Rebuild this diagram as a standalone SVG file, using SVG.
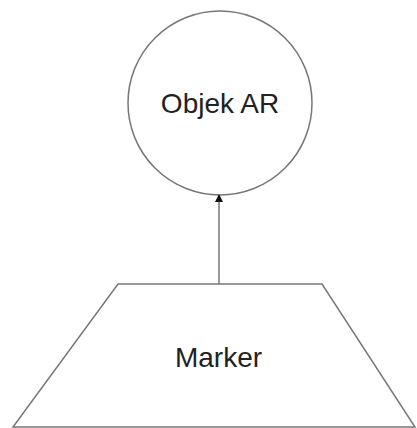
<svg xmlns="http://www.w3.org/2000/svg" width="417" height="428" viewBox="0 0 417 428">
<defs>
<style>
.shape{fill:#fff;stroke:#777;stroke-width:1.5}
.lbl{font-family:"Liberation Sans",Arial,sans-serif;font-size:28px;fill:#222;text-anchor:middle}
.conn{stroke:#777;stroke-width:1.5;fill:none}
</style>
<marker id="arr" markerWidth="8" markerHeight="8" refX="7" refY="4" orient="auto" markerUnits="userSpaceOnUse">
<path d="M0,0 L8,4 L0,8 z" fill="#111"/>
</marker>
</defs>
<rect width="417" height="428" fill="#fff"/>
<g id="marker">
<polygon class="shape" points="118,284 322,284 415,427 13,427"/>
<text class="lbl" x="218.5" y="367">Marker</text>
</g>
<g id="objek-ar">
<circle class="shape" cx="220" cy="103" r="92"/>
<text class="lbl" x="220" y="113">Objek AR</text>
</g>
<g id="connectors">
<line class="conn" x1="219" y1="284" x2="219" y2="195" marker-end="url(#arr)"/>
</g>
</svg>
